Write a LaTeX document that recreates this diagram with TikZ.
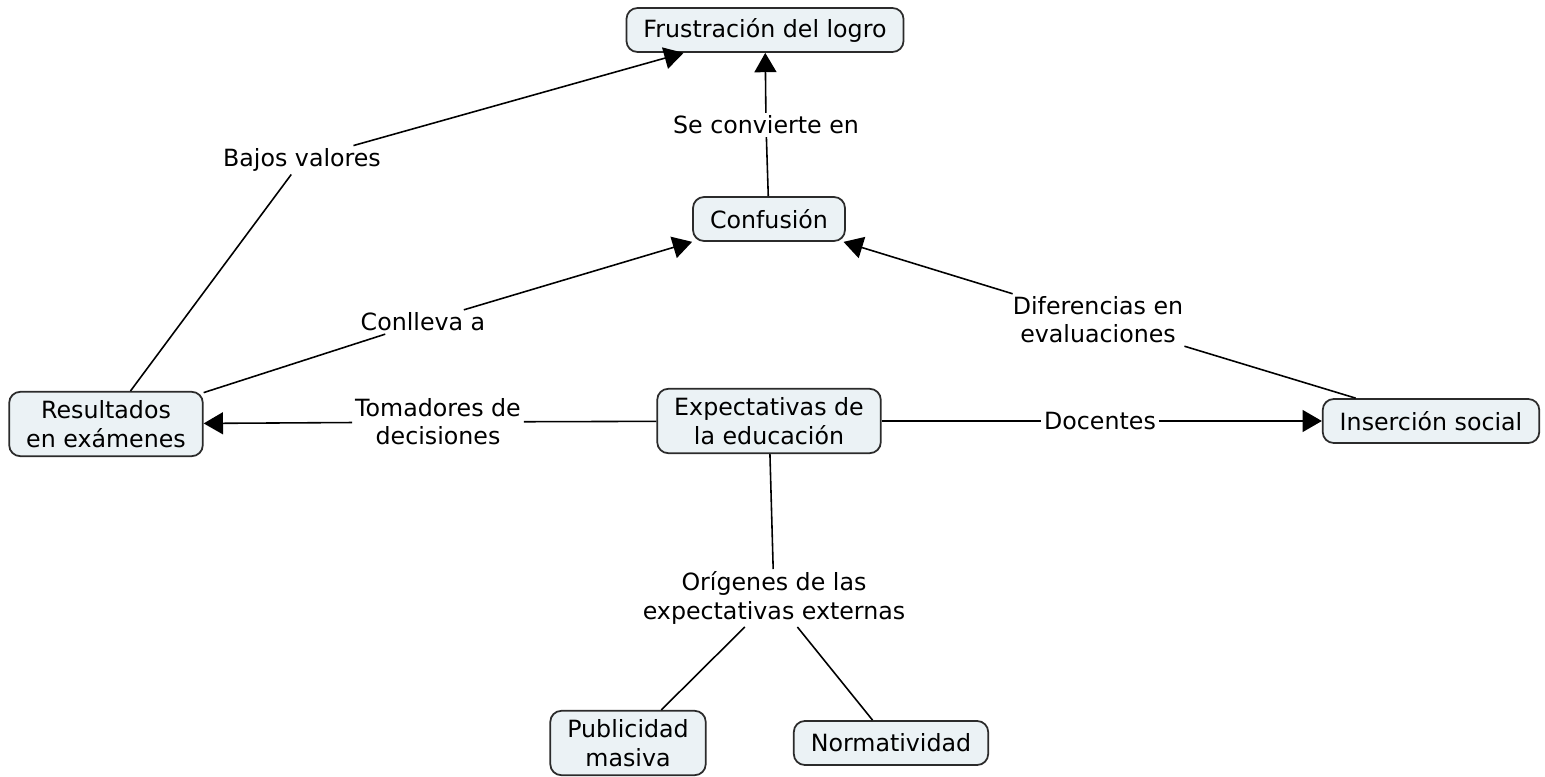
\documentclass[tikz,border=0pt]{standalone}
\usepackage{fontspec}
\setmainfont{DejaVu Sans}
\usetikzlibrary{arrows.meta}
\usetikzlibrary{positioning}
\definecolor{conceptfill}{HTML}{EBF2F5}
\definecolor{conceptdraw}{HTML}{2B2B2B}

\tikzset{
  concept/.style={draw=conceptdraw, fill=conceptfill, line width=1pt, rounded corners=0.22cm,
    align=center, inner xsep=0.34cm, inner ysep=0.17cm, minimum height=0.88cm,
    font=\fontsize{13.5}{16.5}\selectfont},
  linkphrase/.style={fill=white, inner sep=1.5pt, align=center,
    font=\fontsize{13.5}{16}\selectfont},
  link/.style={line width=0.9pt, draw=black},
  linkarrow/.style={link, -{Triangle[length=11pt,width=12.5pt]}}
}

\begin{document}
\begin{tikzpicture}[x=0.02cm, y=-0.02cm]

	\useasboundingbox (0,0) rectangle (1545,777);

	% conceptos
	\node[concept] (frustracion) at (765,30) {Frustración del logro};
	\node[concept] (confusion) at (769,219) {Confusión};
	\node[concept] (resultados) at (106,424) {Resultados\\en exámenes};
	\node[concept] (expectativas) at (769,421) {Expectativas de\\la educación};
	\node[concept] (insercion) at (1431,421) {Inserción social};
	\node[concept] (publicidad) at (628,743) {Publicidad\\masiva};
	\node[concept] (normatividad) at (891,743) {Normatividad};

	% frases de enlace
	\node[linkphrase] (bajos) at (302,160) {Bajos valores};
	\node[linkphrase] (convierte) at (766,125) {Se convierte en};
	\node[linkphrase] (conlleva) at (423,322) {Conlleva a};
	\node[linkphrase] (diferencias) at (1098,320) {Diferencias en\\evaluaciones};
	\node[linkphrase] (tomadores) at (438,422) {Tomadores de\\decisiones};
	\node[linkphrase] (docentes) at (1100,421) {Docentes};
	\node[linkphrase] (origenes) at (774,598) {Orígenes de las\\expectativas externas};

	\draw[link] (resultados) -- (bajos);
	\draw[linkarrow] (bajos) -- (frustracion);

	\draw[link] (confusion) -- (convierte);
	\draw[linkarrow] (convierte) -- (frustracion);

	\draw[link] (resultados) -- (conlleva);
	\draw[linkarrow] (conlleva) -- (confusion);

	\draw[link] (insercion) -- (diferencias);
	\draw[linkarrow] (diferencias) -- (confusion);

	\draw[link] (expectativas) -- (tomadores);
	\draw[linkarrow] (tomadores) -- (resultados);

	\draw[link] (expectativas) -- (docentes);
	\draw[linkarrow] (docentes) -- (insercion);

	\draw[link] (expectativas) -- (origenes);
	\draw[link] (origenes) -- (publicidad);
	\draw[link] (origenes) -- (normatividad);

\end{tikzpicture}
\end{document}
